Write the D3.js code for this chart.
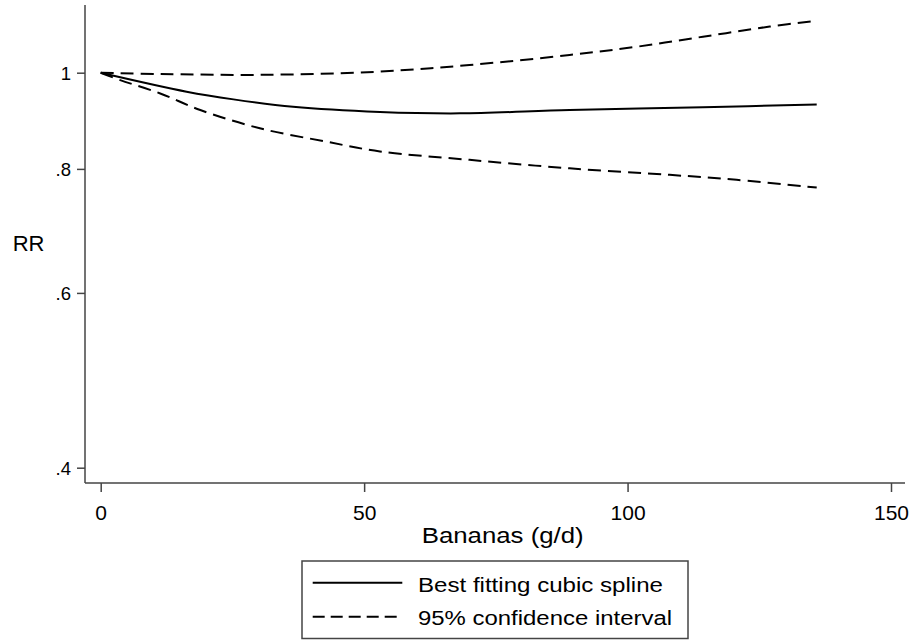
<!DOCTYPE html>
<html>
<head>
<meta charset="utf-8">
<script src="https://cdn.jsdelivr.net/npm/d3@7"></script>
<style>
  html, body { margin: 0; padding: 0; background: #fff; }
  svg { display: block; font-family: "Liberation Sans", Arial, Helvetica, sans-serif; }
</style>
</head>
<body>
<svg id="chart" width="914" height="640"></svg>
<script>
// Banana intake (g/d) and relative risk curves
const splineX = [0, 16.3, 25.2, 36.5, 53, 68.2, 89, 114.3, 135.9];
const splineRR = [1, 0.957, 0.940, 0.924, 0.913, 0.910, 0.917, 0.923, 0.929];

const upperX = [0, 11.3, 30.2, 52, 70, 89, 101.7, 114.3, 127, 135.9];
const upperRR = [1, 0.997, 0.995, 1.002, 1.018, 1.042, 1.062, 1.087, 1.113, 1.128];

const lowerX = [0, 3.7, 11.3, 18.9, 30.2, 42.9, 53, 70, 89, 108, 120.7, 135.9];
const lowerRR = [1, 0.983, 0.953, 0.917, 0.879, 0.852, 0.833, 0.817, 0.801, 0.789, 0.780, 0.766];

const xTicks = [0, 50, 100, 150];
const yTicks = [0.4, 0.6, 0.8, 1];
const yTickLabels = [".4", ".6", ".8", "1"];
const legendLabels = ["Best fitting cubic spline", "95% confidence interval"];

const svg = d3.select("#chart");

const x = d3.scaleLinear().domain([0, 150]).range([100.7, 891]);
const y = d3.scaleLog().domain([0.4, 1]).range([467.7, 72.7]);

const axisColor = "#444";
const plotLeft = 85, plotBottom = 483, plotTop = 5, plotRight = 905;

// Axis lines
svg.append("line")
  .attr("x1", plotLeft).attr("x2", plotLeft)
  .attr("y1", plotTop).attr("y2", plotBottom)
  .attr("stroke", axisColor).attr("stroke-width", 1.5);
svg.append("line")
  .attr("x1", plotLeft).attr("x2", plotRight)
  .attr("y1", plotBottom).attr("y2", plotBottom)
  .attr("stroke", axisColor).attr("stroke-width", 1.5);

// X axis ticks and labels
const xAxis = d3.axisBottom(x).tickValues(xTicks).tickSize(9).tickPadding(12)
  .tickFormat(d3.format("d"));
const gx = svg.append("g").attr("transform", `translate(0,${plotBottom})`).call(xAxis);
gx.select(".domain").remove();
gx.selectAll(".tick line").attr("stroke", axisColor).attr("stroke-width", 1.5);
gx.selectAll(".tick text")
  .attr("fill", "#000").attr("font-size", 21)
  .attr("font-family", "Liberation Sans, Arial, sans-serif")
  .attr("dy", null).attr("y", 37);

// Y axis ticks and labels
const yAxis = d3.axisLeft(y).tickValues(yTicks).tickSize(8).tickPadding(6)
  .tickFormat(d => yTickLabels[yTicks.indexOf(d)]);
const gy = svg.append("g").attr("transform", `translate(${plotLeft},0)`).call(yAxis);
gy.select(".domain").remove();
gy.selectAll(".tick line").attr("stroke", axisColor).attr("stroke-width", 1.5);
gy.selectAll(".tick text")
  .attr("fill", "#000").attr("font-size", 18.5)
  .attr("font-family", "Liberation Sans, Arial, sans-serif")
  .attr("dy", "0.36em").attr("x", -14);

// Axis titles
svg.append("text")
  .attr("x", 421.7).attr("y", 543.3)
  .attr("font-size", 22)
  .attr("textLength", 162).attr("lengthAdjust", "spacingAndGlyphs")
  .text("Bananas (g/d)");

svg.append("text")
  .attr("x", 12.7).attr("y", 251)
  .attr("font-size", 22)
  .text("RR");

// Curves
const line = d3.line()
  .x(d => x(d[0]))
  .y(d => y(d[1]))
  .curve(d3.curveCatmullRom.alpha(0.5));

const zip = (a, b) => a.map((v, i) => [v, b[i]]);

svg.append("path")
  .datum(zip(upperX, upperRR))
  .attr("d", line)
  .attr("fill", "none").attr("stroke", "#000").attr("stroke-width", 2)
  .attr("stroke-dasharray", "13,7");

svg.append("path")
  .datum(zip(lowerX, lowerRR))
  .attr("d", line)
  .attr("fill", "none").attr("stroke", "#000").attr("stroke-width", 2)
  .attr("stroke-dasharray", "13,7");

svg.append("path")
  .datum(zip(splineX, splineRR))
  .attr("d", line)
  .attr("fill", "none").attr("stroke", "#000").attr("stroke-width", 2);

// Legend
const legend = svg.append("g");
legend.append("rect")
  .attr("x", 302).attr("y", 561).attr("width", 386).attr("height", 77.5)
  .attr("fill", "#fff").attr("stroke", axisColor).attr("stroke-width", 1.5);

const rows = [
  { label: legendLabels[0], dash: null, ly: 582.7, ty: 592, len: 245 },
  { label: legendLabels[1], dash: "12,6", ly: 616.7, ty: 625, len: 254 }
];
rows.forEach(r => {
  const l = legend.append("line")
    .attr("x1", 312.7).attr("x2", 402.3)
    .attr("y1", r.ly).attr("y2", r.ly)
    .attr("stroke", "#000").attr("stroke-width", 2);
  if (r.dash) l.attr("stroke-dasharray", r.dash);
  legend.append("text")
    .attr("x", 418).attr("y", r.ty)
    .attr("font-size", 19.5)
    .attr("textLength", r.len).attr("lengthAdjust", "spacingAndGlyphs")
    .text(r.label);
});
</script>
</body>
</html>
